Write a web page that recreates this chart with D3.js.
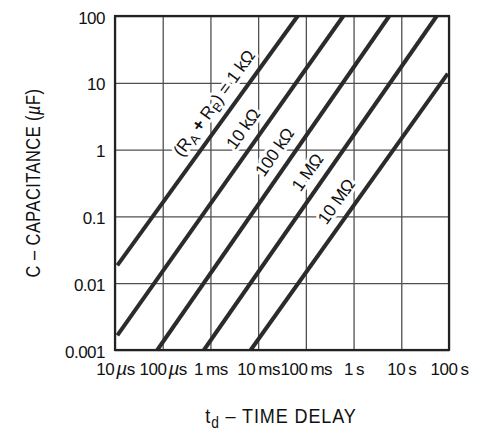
<!DOCTYPE html>
<html>
<head>
<meta charset="utf-8">
<script src="https://cdn.jsdelivr.net/npm/d3@7/dist/d3.min.js"></script>
<style>
body { margin: 0; background: #fff; }
svg { display: block; }
</style>
</head>
<body>
<script>
// axis ticks
const timeTicks = [1e-5, 1e-4, 1e-3, 1e-2, 1e-1, 1, 10, 100];
const timeTickLabels = ["10 µs", "100 µs", "1 ms", "10 ms", "100 ms", "1 s", "10 s", "100 s"];
const capTicks = [0.001, 0.01, 0.1, 1, 10, 100];
const capTickLabels = ["0.001", "0.01", "0.1", "1", "10", "100"];

// one line per R_A + R_B at where each enters / leaves the frame
const resistances = ["1 kΩ", "10 kΩ", "100 kΩ", "1 MΩ", "10 MΩ"];
const startTime = [1.12e-5, 1.12e-5, 7.7e-5, 7.3e-4, 6.98e-3];
const startCap = [0.0185, 0.00166, 0.001, 0.001, 0.001];
const endTime = [0.0675, 0.61, 5.6, 55.3, 94];
const endCap = [100, 100, 100, 100, 13.7];

var width = 491,
    height = 429,
    plotLeft = 115,
    plotRight = 449,
    plotTop = 16,
    plotBottom = 350;

var xScale = d3.scaleLog()
    .domain([1e-5, 100])
    .range([plotLeft, plotRight]);

var yScale = d3.scaleLog()
    .domain([0.001, 100])
    .range([plotBottom, plotTop]);

var svg = d3.select('body').append('svg')
    .attr('width', width)
    .attr('height', height)
    .style('background', '#fff');

const tickFont = '"Liberation Sans", Arial, sans-serif';

// grid from the axes
var xAxis = d3.axisBottom(xScale)
    .tickValues(timeTicks)
    .tickSizeInner(-(plotBottom - plotTop))
    .tickSizeOuter(0)
    .tickPadding(16)
    .tickFormat((d, i) => timeTickLabels[i]);

var xAxisGroup = svg.append('g')
    .attr('transform', `translate(0, ${plotBottom})`)
    .call(xAxis);

var yAxis = d3.axisLeft(yScale)
    .tickValues(capTicks)
    .tickSizeInner(-(plotRight - plotLeft))
    .tickSizeOuter(0)
    .tickPadding(10)
    .tickFormat((d, i) => capTickLabels[i]);

var yAxisGroup = svg.append('g')
    .attr('transform', `translate(${plotLeft}, 0)`)
    .call(yAxis);

svg.selectAll('.domain').remove();
svg.selectAll('.tick line')
    .attr('stroke', '#505050')
    .attr('stroke-width', 1.3);
svg.selectAll('.tick text')
    .attr('fill', '#111')
    .style('font-family', tickFont)
    .style('font-size', '17px')
    .style('letter-spacing', '-0.5px');

// µ in italic, like the datasheet
xAxisGroup.selectAll('.tick text').each(function(d, i) {
    var parts = timeTickLabels[i].split(' ');
    var t = d3.select(this).text('');
    t.append('tspan').text(parts[0]);
    if (parts[1][0] === 'µ') {
        t.append('tspan').attr('dx', 2).style('font-style', 'italic').style('font-size', '19px').text('µ');
        t.append('tspan').text(parts[1].slice(1));
    } else {
        t.append('tspan').attr('dx', 3).text(parts[1]);
    }
});
xAxisGroup.selectAll('.tick text').attr('dy', '0.5em');
yAxisGroup.selectAll('.tick text').attr('dy', '0.42em');

// line labels, sitting above-left of each line
const labelAt = [-2.64, -2.03, -1.37, -0.68, -0.08];  // log10 of time
const labelOffset = 17;

var labelGroup = svg.append('g');
var linesGroup = svg.append('g');

resistances.forEach((r, i) => {
    var x1 = xScale(startTime[i]), y1 = yScale(startCap[i]),
        x2 = xScale(endTime[i]), y2 = yScale(endCap[i]);

    linesGroup.append('line')
        .attr('x1', x1).attr('y1', y1)
        .attr('x2', x2).attr('y2', y2)
        .attr('stroke', '#2b2b2b')
        .attr('stroke-width', 4);

    var slope = Math.log(endCap[i] / startCap[i]) / Math.log(endTime[i] / startTime[i]);
    var t = Math.pow(10, labelAt[i]);
    var c = startCap[i] * Math.pow(t / startTime[i], slope);
    var dx = x2 - x1, dy = y2 - y1, len = Math.sqrt(dx * dx + dy * dy);
    var cx = xScale(t) + labelOffset * dy / len,
        cy = yScale(c) - labelOffset * dx / len;
    var angle = Math.atan2(dy, dx) * 180 / Math.PI;

    var text = labelGroup.append('text')
        .attr('transform', `translate(${cx}, ${cy}) rotate(${angle})`)
        .attr('text-anchor', 'middle')
        .attr('dy', '0.36em')
        .attr('fill', '#111')
        .attr('stroke', '#fff')
        .attr('stroke-width', 6)
        .attr('stroke-linejoin', 'round')
        .attr('paint-order', 'stroke')
        .style('font-family', tickFont)
        .style('font-size', '17.5px')
        .style('letter-spacing', '-0.3px');

    if (i === 0) {
        text.append('tspan').text('(R');
        text.append('tspan').attr('dy', 4).style('font-size', '13px').text('A');
        text.append('tspan').attr('dy', -4).style('font-weight', 'bold').text(' + ');
        text.append('tspan').text('R');
        text.append('tspan').attr('dy', 4).style('font-size', '13px').text('B');
        text.append('tspan').attr('dy', -4).text(') = ' + r);
    } else {
        text.text(r);
    }
});

// frame
svg.append('rect')
    .attr('x', plotLeft)
    .attr('y', plotTop)
    .attr('width', plotRight - plotLeft)
    .attr('height', plotBottom - plotTop)
    .attr('fill', 'none')
    .attr('stroke', '#222')
    .attr('stroke-width', 2.2);

// axis titles, narrow lettering
var xTitle = svg.append('text')
    .attr('transform', 'translate(281, 423) scale(0.86, 1)')
    .attr('text-anchor', 'middle')
    .attr('fill', '#111')
    .style('font-family', tickFont)
    .style('font-size', '21px')
    .style('letter-spacing', '1px');
xTitle.append('tspan').text('t');
xTitle.append('tspan').attr('dy', 5).style('font-size', '16px').text('d');
xTitle.append('tspan').attr('dy', -5).text(' – TIME  DELAY');

var yTitle = svg.append('text')
    .attr('transform', 'translate(40, 183) rotate(-90) scale(0.82, 1)')
    .attr('text-anchor', 'middle')
    .attr('fill', '#111')
    .style('font-family', tickFont)
    .style('font-size', '20px')
    .style('letter-spacing', '0.6px');
yTitle.append('tspan').text('C – CAPACITANCE (');
yTitle.append('tspan').style('font-style', 'italic').text('µ');
yTitle.append('tspan').text('F)');
</script>
</body>
</html>
